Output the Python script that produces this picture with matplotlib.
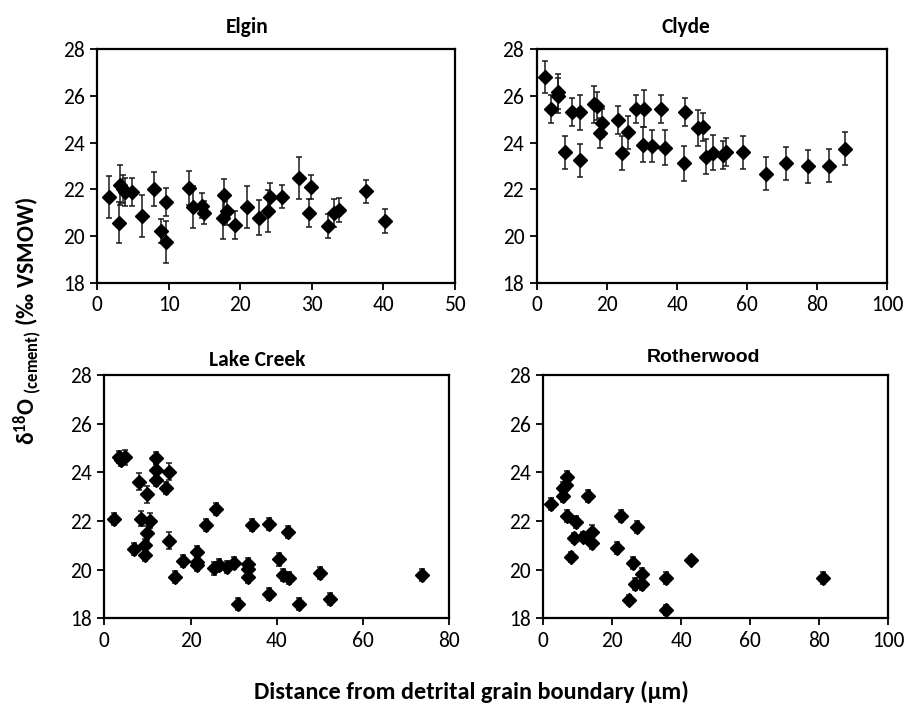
import matplotlib
matplotlib.use("Agg")
import matplotlib.pyplot as plt
from matplotlib import font_manager

installed = {f.name for f in font_manager.fontManager.ttflist}
FONT = "Carlito" if "Carlito" in installed else "Lato"
plt.rcParams["font.family"] = [FONT, "DejaVu Sans"]
plt.rcParams["mathtext.fontset"] = "custom"
plt.rcParams["mathtext.bf"] = f"{FONT}:bold"
plt.rcParams["mathtext.rm"] = f"{FONT}:bold"
plt.rcParams["mathtext.default"] = "bf"

# ---- Elgin ----
elgin_x = [1.7, 3.0, 3.2, 3.6, 3.9, 4.9, 6.3, 8.0, 9.0, 9.7, 9.7, 12.8, 13.4, 14.6, 14.9, 17.6,
           17.7, 18.1, 19.3, 20.9, 22.6, 23.9, 24.1, 25.8, 28.2, 29.9, 29.6, 32.2, 33.1, 33.8, 37.6, 40.2]
elgin_y = [21.66, 20.56, 22.19, 22.0, 21.9, 21.9, 20.87, 22.01, 20.21, 21.47, 19.76, 22.06, 21.26, 21.3,
           21.0, 20.79, 21.76, 21.09, 20.47, 21.26, 20.79, 21.06, 21.69, 21.69, 22.47, 22.1, 20.97, 20.43,
           20.97, 21.11, 21.91, 20.64]
elgin_err = [0.9, 0.88, 0.86, 0.6, 0.6, 0.6, 0.9, 0.74, 0.5, 0.6, 0.9, 0.73, 0.9, 0.55, 0.5, 0.9,
             0.7, 0.6, 0.6, 0.9, 0.75, 0.9, 0.6, 0.5, 0.9, 0.5, 0.6, 0.5, 0.6, 0.5, 0.5, 0.5]

# ---- Clyde ----
clyde_x = [2.3, 4.0, 6.2, 6.0, 8.1, 10.2, 12.4, 12.4, 16.4, 17.2, 18.5, 18.1, 23.3, 24.2, 25.9, 28.3,
           30.6, 30.4, 32.8, 35.5, 36.5, 42.3, 42.0, 46.1, 47.5, 48.3, 50.2, 53.0, 53.9, 58.8, 65.5,
           71.1, 77.4, 83.5, 87.9]
clyde_y = [26.81, 25.43, 26.19, 26.0, 23.59, 25.33, 25.3, 23.24, 25.64, 25.57, 24.86, 24.4, 24.97, 23.54,
           24.44, 25.43, 25.46, 23.91, 23.86, 25.44, 23.79, 25.3, 23.11, 24.61, 24.66, 23.4, 23.57, 23.47,
           23.6, 23.59, 22.67, 23.11, 22.99, 23.01, 23.74]
clyde_err = [0.7, 0.6, 0.75, 0.75, 0.7, 0.6, 0.75, 0.7, 0.78, 0.6, 0.6, 0.65, 0.6, 0.73, 0.7, 0.6,
             0.78, 0.75, 0.7, 0.6, 0.75, 0.6, 0.75, 0.77, 0.6, 0.75, 0.75, 0.6, 0.6, 0.7, 0.7,
             0.7, 0.7, 0.7, 0.7]

# ---- Lake Creek ----
lake_x = [2.3, 3.5, 3.8, 4.8, 6.9, 8.0, 8.4, 9.5, 9.5, 10.0, 10.0, 10.6, 11.9, 11.9, 11.9, 14.3,
          14.9, 14.9, 16.3, 18.3, 21.4, 21.4, 21.5, 23.7, 25.4, 26.0, 26.6, 28.5, 30.0, 31.0, 33.4,
          33.4, 33.4, 34.3, 38.1, 38.1, 40.5, 41.5, 42.5, 42.8, 45.1, 50.0, 52.4, 73.7]
lake_y = [22.07, 24.64, 24.5, 24.62, 20.85, 23.62, 22.1, 21.01, 20.6, 23.1, 21.5, 22.01, 24.58, 24.1,
          23.68, 23.34, 24.03, 21.18, 19.71, 20.36, 20.3, 20.18, 20.74, 21.85, 20.05, 22.51, 20.19,
          20.1, 20.26, 18.58, 20.22, 20.01, 19.71, 21.84, 21.88, 18.99, 20.42, 19.78, 21.56, 19.67,
          18.58, 19.85, 18.81, 19.78]
lake_err = [0.25, 0.25, 0.25, 0.3, 0.25, 0.35, 0.3, 0.25, 0.25, 0.35, 0.3, 0.3, 0.25, 0.25,
            0.25, 0.25, 0.35, 0.35, 0.25, 0.25, 0.25, 0.25, 0.25, 0.25, 0.25, 0.25, 0.25,
            0.25, 0.25, 0.25, 0.25, 0.25, 0.25, 0.25, 0.25, 0.25, 0.25, 0.25, 0.25, 0.25,
            0.25, 0.25, 0.25, 0.25]

# ---- Rotherwood ----
roth_x = [2.2, 5.8, 5.8, 6.6, 7.0, 7.0, 8.0, 9.0, 9.4, 11.6, 13.0, 14.2, 14.2, 21.3, 22.5, 24.8,
          26.1, 26.6, 27.2, 28.7, 28.7, 35.6, 35.6, 42.7, 81.0]
roth_y = [22.7, 23.03, 23.34, 23.5, 23.82, 22.22, 20.51, 21.29, 21.97, 21.36, 23.04, 21.53, 21.08,
          20.88, 22.22, 18.75, 20.29, 19.41, 21.77, 19.81, 19.4, 19.64, 18.34, 20.4, 19.64]
roth_err = [0.25, 0.25, 0.25, 0.25, 0.22, 0.25, 0.2, 0.2, 0.25, 0.2, 0.25, 0.3, 0.25, 0.25, 0.25,
            0.2, 0.25, 0.25, 0.25, 0.25, 0.25, 0.25, 0.2, 0.15, 0.25]

panels = [
    ("Elgin", elgin_x, elgin_y, elgin_err, 50, 10, [0.1071, 0.5996, 0.3951, 0.3306], (247, 27), FONT, 15.5),
    ("Clyde", clyde_x, clyde_y, clyde_err, 100, 20, [0.5924, 0.5996, 0.3870, 0.3306], (686, 27), FONT, 15.5),
    ("Lake Creek", lake_x, lake_y, lake_err, 80, 20, [0.1151, 0.1242, 0.3808, 0.3446], (257, 360), FONT, 15.5),
    ("Rotherwood", roth_x, roth_y, roth_err, 100, 20, [0.5997, 0.1242, 0.3808, 0.3446], (703, 357),
     "Liberation Sans", 14),
]

W, H = 906, 706
fig = plt.figure(figsize=(W / 100, H / 100), dpi=100)

for name, xs, ys, es, xmax, xstep, rect, tpos, tfont, tsize in panels:
    ax = fig.add_axes(rect)
    ax.errorbar(xs, ys, yerr=es, fmt="D", color="black", ms=6.8, mfc="black", mec="black",
                ecolor="#1a1a1a", elinewidth=1.1, capsize=2.4, capthick=1.1, zorder=3)
    ax.set_xlim(0, xmax)
    ax.set_ylim(18, 28)
    ax.set_xticks(range(0, xmax + 1, xstep))
    ax.set_yticks(range(18, 29, 2))
    for s in ax.spines.values():
        s.set_linewidth(1.6)
        s.set_color("black")
    ax.tick_params(direction="out", length=5, width=1.3, labelsize=15.5, pad=4)
    fig.text(tpos[0] / W, 1 - tpos[1] / H, name, ha="center", va="center",
             fontsize=tsize, fontweight="bold", family=[tfont, "DejaVu Sans"])

fig.text(28 / W, 1 - 321 / H, "δ$^{18}$O$_{\\ (cement)}$ (‰ VSMOW)", rotation=90,
         ha="center", va="center", fontsize=17, fontweight="bold")
fig.text(471 / W, 1 - 692 / H, "Distance from detrital grain boundary (µm)", ha="center",
         va="center", fontsize=17.5, fontweight="bold")

fig.savefig("out.png", dpi=100)
